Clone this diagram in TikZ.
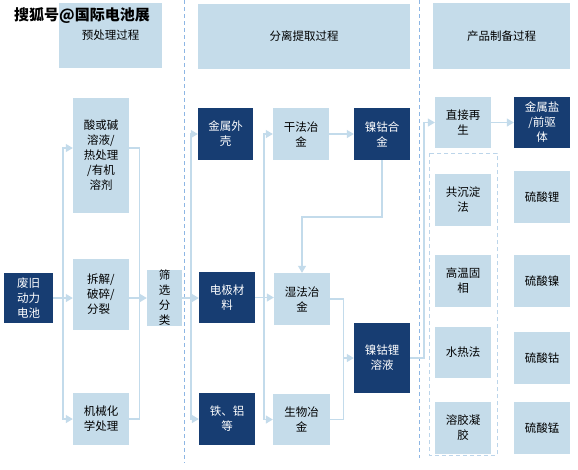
\documentclass[tikz,border=0pt]{standalone}
\usepackage{fontspec}
\newfontfamily\cjk{Noto Sans CJK SC}
\usetikzlibrary{arrows.meta}
\definecolor{darkb}{HTML}{173D72}
\definecolor{lightb}{HTML}{C5DCEA}
\definecolor{connc}{HTML}{C3DBEB}
\definecolor{dashc}{HTML}{8DB6E4}
\definecolor{dashl}{HTML}{BCD5EA}
\tikzset{
  boxbase/.style={draw=none, inner sep=0pt, align=center, font=\cjk\fontsize{11.5}{15}\selectfont},
  lbox/.style={boxbase, fill=lightb, text=black},
  dbox/.style={boxbase, fill=darkb, text=white},
  conn/.style={draw=connc, line width=1.2pt},
  arr/.style={conn, -{Triangle[length=7pt,width=8pt]}},
  dline/.style={draw=dashc, line width=0.9pt, dash pattern=on 4pt off 3pt},
  dboxline/.style={draw=dashl, line width=0.9pt, dash pattern=on 4pt off 3pt},
}
\begin{document}
\begin{tikzpicture}[x=1pt,y=-1pt]
\useasboundingbox (0,0) rectangle (578,469);
\fill[white] (0,0) rectangle (578,469);
% dashed separators
\draw[dline] (184,0) -- (184,463);
\draw[dline] (419,0) -- (419,458);
\draw[dboxline] (429,153) rectangle (497,455);
% headers
\node[lbox, minimum width=103pt, minimum height=65pt] (h1) at (110.5,35.5) {预处理过程};
\node[lbox, minimum width=212pt, minimum height=65pt] (h2) at (304,36.5) {分离提取过程};
\node[lbox, minimum width=137pt, minimum height=66pt] (h3) at (501.5,36) {产品制备过程};
% pretreatment
\node[dbox, minimum width=49pt, minimum height=50pt] (waste) at (28.5,298) {废旧\\动力\\电池};
\node[lbox, minimum width=56pt, minimum height=115pt] (acid) at (101,155.5) {酸或碱\\溶液/\\热处理\\/有机\\溶剂};
\node[lbox, minimum width=56pt, minimum height=71pt, align=left] (disas) at (101,294.5) {拆解/\\破碎/\\分裂};
\node[lbox, minimum width=56pt, minimum height=52pt] (mech) at (101,419) {机械化\\学处理};
\node[lbox, minimum width=35pt, minimum height=52pt] (sieve) at (164.5,298) {筛\\选\\分\\类};
% separation
\node[dbox, minimum width=55pt, minimum height=52pt] (shell) at (225.5,134) {金属外\\壳};
\node[lbox, minimum width=56pt, minimum height=52pt] (dry) at (301,134) {干法冶\\金};
\node[dbox, minimum width=56pt, minimum height=52pt] (nico) at (382,134) {镍钴合\\金};
\node[dbox, minimum width=56pt, minimum height=51pt] (elec) at (227,297.5) {电极材\\料};
\node[lbox, minimum width=56pt, minimum height=52pt] (wet) at (302,299) {湿法冶\\金};
\node[dbox, minimum width=56pt, minimum height=52pt] (feal) at (227,419) {铁、铝\\等};
\node[lbox, minimum width=57pt, minimum height=51pt] (bio) at (301.5,419.5) {生物冶\\金};
\node[dbox, minimum width=56pt, minimum height=70pt] (ncl) at (382,358) {镍钴锂\\溶液};
% products
\node[lbox, minimum width=56pt, minimum height=51pt] (direct) at (463,122.5) {直接再\\生};
\node[dbox, minimum width=56pt, minimum height=51pt] (salt) at (542,122.5) {金属盐\\/前驱\\体};
\node[lbox, minimum width=56pt, minimum height=52pt] (copr) at (463,200) {共沉淀\\法};
\node[lbox, minimum width=56pt, minimum height=52pt] (htss) at (463,281) {高温固\\相};
\node[lbox, minimum width=56pt, minimum height=51pt] (hydro) at (463,352.5) {水热法};
\node[lbox, minimum width=56pt, minimum height=52pt] (solgel) at (463,428) {溶胶凝\\胶};
\node[lbox, minimum width=56pt, minimum height=52pt] (li) at (542,197) {硫酸锂};
\node[lbox, minimum width=56pt, minimum height=52pt] (ni) at (542,281) {硫酸镍};
\node[lbox, minimum width=56pt, minimum height=52pt] (co) at (542,358) {硫酸钴};
\node[lbox, minimum width=56pt, minimum height=52pt] (mn) at (542,428) {硫酸锰};
% watermark
\node[font=\cjk\bfseries\fontsize{15}{18}\selectfont, text=black, inner sep=0pt] (wm) at (82,16) {搜狐号@国际电池展};
% connectors: pretreatment
\coordinate (j1) at (63,298);
\draw[arr] (waste.east) -- (waste.east -| disas.west);
\draw[arr] (j1) |- ([yshift=7.5pt]acid.west);
\draw[arr] (j1) |- (mech.west);
\draw[conn] ([yshift=7.5pt]acid.east) -- ++(10,0) |- (mech.east);
\draw[arr] (disas.east |- sieve.west) -- (sieve.west);
% connectors: separation
\coordinate (j3) at (191,298);
\draw[arr] (sieve.east) -- (sieve.east -| elec.west);
\draw[arr] (j3) |- (shell.west);
\draw[arr] (j3) |- (feal.west);
\coordinate (j4) at (264,298);
\draw[arr] (elec.east) -- (elec.east -| wet.west);
\draw[arr] (j4) |- (dry.west);
\draw[arr] (j4) |- (bio.west);
\draw[arr] (dry.east) -- (nico.west);
\coordinate (k5) at (0,217);
\draw[arr] (nico.south) -- (nico.south |- k5) -| (wet.north);
\draw[conn] (wet.east) -- ++(13,0) |- (bio.east);
\coordinate (j6) at (343,358);
\draw[arr] (j6) -- (ncl.west);
% connectors: products
\coordinate (j7) at (424,358);
\draw[arr] (ncl.east) -- (j7) |- (direct.west);
\draw[arr] (direct.east) -- (salt.west);
\end{tikzpicture}
\end{document}
